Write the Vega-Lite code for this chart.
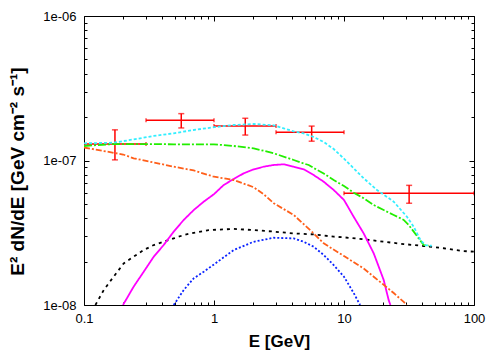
{
  "$schema": "https://vega.github.io/schema/vega-lite/v6.json",
  "width": 390,
  "height": 289,
  "autosize": {"type": "none"},
  "padding": {"left": 84, "top": 16, "right": 26, "bottom": 45},
  "background": "white",
  "config": {
    "view": {"stroke": null},
    "font": "Liberation Sans",
    "axis": {
      "grid": false,
      "labelFont": "Liberation Sans",
      "labelFontSize": 13,
      "labelColor": "black",
      "titleFont": "Liberation Sans",
      "titleFontSize": 17,
      "titleFontWeight": "bold",
      "titleColor": "black",
      "domainColor": "black",
      "domainWidth": 1,
      "tickColor": "black",
      "tickWidth": 1,
      "tickSize": -5,
      "labelFlush": false,
      "labelOverlap": false,
      "labelBound": false,
      "tickDash": {"condition": {"test": "abs(log(datum.value)/LN10 - round(log(datum.value)/LN10)) > 0.01", "value": [3, 10]}, "value": [6, 0]}
    }
  },
  "datasets": {
    "points": [
      {"E": 0.173, "Emin": 0.1, "Emax": 0.3, "F": 1.30e-7, "Fmin": 1.01e-7, "Fmax": 1.63e-7},
      {"E": 0.56, "Emin": 0.3, "Emax": 1.0, "F": 1.90e-7, "Fmin": 1.68e-7, "Fmax": 2.11e-7},
      {"E": 1.74, "Emin": 1.0, "Emax": 3.0, "F": 1.73e-7, "Fmin": 1.50e-7, "Fmax": 1.96e-7},
      {"E": 5.64, "Emin": 3.0, "Emax": 10.0, "F": 1.57e-7, "Fmin": 1.36e-7, "Fmax": 1.73e-7},
      {"E": 31.7, "Emin": 10.0, "Emax": 100.0, "F": 5.93e-8, "Fmin": 5.06e-8, "Fmax": 6.73e-8}
    ],
    "curves": [
      {"s": "black", "E": 0.1224, "F": 1.0e-8},
      {"s": "black", "E": 0.142, "F": 1.27e-8},
      {"s": "black", "E": 0.169, "F": 1.57e-8},
      {"s": "black", "E": 0.202, "F": 1.94e-8},
      {"s": "black", "E": 0.241, "F": 2.16e-8},
      {"s": "black", "E": 0.288, "F": 2.40e-8},
      {"s": "black", "E": 0.344, "F": 2.60e-8},
      {"s": "black", "E": 0.41, "F": 2.74e-8},
      {"s": "black", "E": 0.49, "F": 2.89e-8},
      {"s": "black", "E": 0.585, "F": 3.05e-8},
      {"s": "black", "E": 0.698, "F": 3.16e-8},
      {"s": "black", "E": 0.91, "F": 3.30e-8},
      {"s": "black", "E": 1.418, "F": 3.36e-8},
      {"s": "black", "E": 2.02, "F": 3.30e-8},
      {"s": "black", "E": 2.879, "F": 3.22e-8},
      {"s": "black", "E": 4.104, "F": 3.13e-8},
      {"s": "black", "E": 5.847, "F": 3.08e-8},
      {"s": "black", "E": 8.333, "F": 2.97e-8},
      {"s": "black", "E": 10.0, "F": 2.94e-8},
      {"s": "black", "E": 14.17, "F": 2.85e-8},
      {"s": "black", "E": 20.2, "F": 2.74e-8},
      {"s": "black", "E": 28.79, "F": 2.64e-8},
      {"s": "black", "E": 41.04, "F": 2.56e-8},
      {"s": "black", "E": 58.47, "F": 2.47e-8},
      {"s": "black", "E": 83.33, "F": 2.36e-8},
      {"s": "black", "E": 100.0, "F": 2.34e-8},

      {"s": "blue", "E": 0.49, "F": 1.0e-8},
      {"s": "blue", "E": 0.585, "F": 1.27e-8},
      {"s": "blue", "E": 0.698, "F": 1.53e-8},
      {"s": "blue", "E": 0.834, "F": 1.70e-8},
      {"s": "blue", "E": 1.0, "F": 1.91e-8},
      {"s": "blue", "E": 1.418, "F": 2.40e-8},
      {"s": "blue", "E": 2.02, "F": 2.74e-8},
      {"s": "blue", "E": 2.879, "F": 2.92e-8},
      {"s": "blue", "E": 4.104, "F": 2.89e-8},
      {"s": "blue", "E": 4.898, "F": 2.74e-8},
      {"s": "blue", "E": 5.847, "F": 2.53e-8},
      {"s": "blue", "E": 6.981, "F": 2.22e-8},
      {"s": "blue", "E": 8.333, "F": 1.89e-8},
      {"s": "blue", "E": 10.0, "F": 1.57e-8},
      {"s": "blue", "E": 11.87, "F": 1.21e-8},
      {"s": "blue", "E": 13.3, "F": 1.0e-8},

      {"s": "magenta", "E": 0.1995, "F": 1.0e-8},
      {"s": "magenta", "E": 0.241, "F": 1.34e-8},
      {"s": "magenta", "E": 0.288, "F": 1.70e-8},
      {"s": "magenta", "E": 0.344, "F": 2.16e-8},
      {"s": "magenta", "E": 0.41, "F": 2.60e-8},
      {"s": "magenta", "E": 0.49, "F": 3.22e-8},
      {"s": "magenta", "E": 0.585, "F": 3.88e-8},
      {"s": "magenta", "E": 0.698, "F": 4.54e-8},
      {"s": "magenta", "E": 0.834, "F": 5.19e-8},
      {"s": "magenta", "E": 1.0, "F": 5.85e-8},
      {"s": "magenta", "E": 1.188, "F": 6.77e-8},
      {"s": "magenta", "E": 1.418, "F": 7.45e-8},
      {"s": "magenta", "E": 1.692, "F": 8.15e-8},
      {"s": "magenta", "E": 2.02, "F": 8.69e-8},
      {"s": "magenta", "E": 2.412, "F": 9.06e-8},
      {"s": "magenta", "E": 2.879, "F": 9.31e-8},
      {"s": "magenta", "E": 3.438, "F": 9.41e-8},
      {"s": "magenta", "E": 4.104, "F": 9.06e-8},
      {"s": "magenta", "E": 4.898, "F": 8.69e-8},
      {"s": "magenta", "E": 5.847, "F": 7.93e-8},
      {"s": "magenta", "E": 6.981, "F": 7.13e-8},
      {"s": "magenta", "E": 8.333, "F": 6.25e-8},
      {"s": "magenta", "E": 10.0, "F": 5.33e-8},
      {"s": "magenta", "E": 11.87, "F": 4.08e-8},
      {"s": "magenta", "E": 14.17, "F": 3.13e-8},
      {"s": "magenta", "E": 16.92, "F": 2.28e-8},
      {"s": "magenta", "E": 20.2, "F": 1.49e-8},
      {"s": "magenta", "E": 22.07, "F": 1.08e-8},
      {"s": "magenta", "E": 22.75, "F": 1.0e-8},

      {"s": "orange", "E": 0.1, "F": 1.23e-7},
      {"s": "orange", "E": 0.142, "F": 1.163e-7},
      {"s": "orange", "E": 0.2, "F": 1.10e-7},
      {"s": "orange", "E": 0.241, "F": 1.036e-7},
      {"s": "orange", "E": 0.344, "F": 9.69e-8},
      {"s": "orange", "E": 0.49, "F": 9.06e-8},
      {"s": "orange", "E": 0.698, "F": 8.53e-8},
      {"s": "orange", "E": 1.0, "F": 7.72e-8},
      {"s": "orange", "E": 1.418, "F": 7.33e-8},
      {"s": "orange", "E": 2.02, "F": 6.53e-8},
      {"s": "orange", "E": 2.412, "F": 5.84e-8},
      {"s": "orange", "E": 2.879, "F": 5.06e-8},
      {"s": "orange", "E": 4.104, "F": 4.20e-8},
      {"s": "orange", "E": 5.847, "F": 3.13e-8},
      {"s": "orange", "E": 6.981, "F": 2.67e-8},
      {"s": "orange", "E": 10.0, "F": 2.18e-8},
      {"s": "orange", "E": 14.17, "F": 1.79e-8},
      {"s": "orange", "E": 16.92, "F": 1.57e-8},
      {"s": "orange", "E": 20.2, "F": 1.38e-8},
      {"s": "orange", "E": 24.12, "F": 1.21e-8},
      {"s": "orange", "E": 28.79, "F": 1.05e-8},
      {"s": "orange", "E": 30.35, "F": 1.0e-8},

      {"s": "green", "E": 0.1, "F": 1.26e-7},
      {"s": "green", "E": 0.169, "F": 1.30e-7},
      {"s": "green", "E": 0.288, "F": 1.30e-7},
      {"s": "green", "E": 0.49, "F": 1.295e-7},
      {"s": "green", "E": 1.0, "F": 1.295e-7},
      {"s": "green", "E": 1.418, "F": 1.26e-7},
      {"s": "green", "E": 2.02, "F": 1.214e-7},
      {"s": "green", "E": 2.879, "F": 1.122e-7},
      {"s": "green", "E": 4.104, "F": 1.008e-7},
      {"s": "green", "E": 4.898, "F": 9.53e-8},
      {"s": "green", "E": 5.352, "F": 9.31e-8},
      {"s": "green", "E": 5.847, "F": 8.87e-8},
      {"s": "green", "E": 6.981, "F": 8.13e-8},
      {"s": "green", "E": 8.333, "F": 7.33e-8},
      {"s": "green", "E": 10.0, "F": 6.66e-8},
      {"s": "green", "E": 11.87, "F": 5.99e-8},
      {"s": "green", "E": 14.17, "F": 5.48e-8},
      {"s": "green", "E": 16.92, "F": 4.92e-8},
      {"s": "green", "E": 20.2, "F": 4.54e-8},
      {"s": "green", "E": 24.12, "F": 4.20e-8},
      {"s": "green", "E": 28.79, "F": 3.88e-8},
      {"s": "green", "E": 31.45, "F": 3.58e-8},
      {"s": "green", "E": 34.38, "F": 3.22e-8},
      {"s": "green", "E": 37.55, "F": 2.89e-8},
      {"s": "green", "E": 41.04, "F": 2.60e-8},
      {"s": "green", "E": 44.82, "F": 2.57e-8},

      {"s": "cyan", "E": 0.1, "F": 1.315e-7},
      {"s": "cyan", "E": 0.169, "F": 1.328e-7},
      {"s": "cyan", "E": 0.241, "F": 1.40e-7},
      {"s": "cyan", "E": 0.344, "F": 1.478e-7},
      {"s": "cyan", "E": 0.49, "F": 1.543e-7},
      {"s": "cyan", "E": 0.698, "F": 1.626e-7},
      {"s": "cyan", "E": 1.0, "F": 1.70e-7},
      {"s": "cyan", "E": 1.418, "F": 1.761e-7},
      {"s": "cyan", "E": 2.02, "F": 1.789e-7},
      {"s": "cyan", "E": 2.879, "F": 1.752e-7},
      {"s": "cyan", "E": 3.438, "F": 1.67e-7},
      {"s": "cyan", "E": 4.104, "F": 1.59e-7},
      {"s": "cyan", "E": 4.898, "F": 1.54e-7},
      {"s": "cyan", "E": 5.847, "F": 1.454e-7},
      {"s": "cyan", "E": 6.981, "F": 1.343e-7},
      {"s": "cyan", "E": 8.333, "F": 1.20e-7},
      {"s": "cyan", "E": 10.0, "F": 1.03e-7},
      {"s": "cyan", "E": 14.17, "F": 7.53e-8},
      {"s": "cyan", "E": 17.94, "F": 6.25e-8},
      {"s": "cyan", "E": 24.12, "F": 5.19e-8},
      {"s": "cyan", "E": 30.5, "F": 4.08e-8},
      {"s": "cyan", "E": 34.38, "F": 3.48e-8},
      {"s": "cyan", "E": 38.7, "F": 2.82e-8},
      {"s": "cyan", "E": 42.3, "F": 2.59e-8},
      {"s": "cyan", "E": 47.3, "F": 2.57e-8}
    ]
  },
  "layer": [
    {
      "data": {"name": "points"},
      "mark": {"type": "rule", "color": "#ff0000", "strokeWidth": 1.5, "clip": true},
      "encoding": {
        "x": {"field": "Emin", "type": "quantitative",
              "scale": {"type": "log", "domain": [0.1, 100], "nice": false},
              "axis": {"orient": "top", "title": null, "labels": false,
                       "values": [0.1,0.2,0.3,0.4,0.5,0.6,0.7,0.8,0.9,1,2,3,4,5,6,7,8,9,10,20,30,40,50,60,70,80,90,100]}},
        "x2": {"field": "Emax"},
        "y": {"field": "F", "type": "quantitative",
              "scale": {"type": "log", "domain": [1e-8, 1e-6], "nice": false},
              "axis": {"orient": "right", "title": null, "labels": false,
                       "values": [1e-8,2e-8,3e-8,4e-8,5e-8,6e-8,7e-8,8e-8,9e-8,1e-7,2e-7,3e-7,4e-7,5e-7,6e-7,7e-7,8e-7,9e-7,1e-6]}}
      }
    },
    {
      "data": {"name": "points"},
      "mark": {"type": "rule", "color": "#ff0000", "strokeWidth": 1.5, "clip": true},
      "encoding": {
        "x": {"field": "E", "type": "quantitative", "axis": null},
        "y": {"field": "Fmin", "type": "quantitative", "axis": null},
        "y2": {"field": "Fmax"}
      }
    },
    {
      "data": {"name": "points"},
      "mark": {"type": "tick", "orient": "horizontal", "color": "#ff0000", "size": 6, "thickness": 1.5, "clip": true},
      "encoding": {
        "x": {"field": "E", "type": "quantitative", "axis": null},
        "y": {"field": "Fmin", "type": "quantitative", "axis": null}
      }
    },
    {
      "data": {"name": "points"},
      "mark": {"type": "tick", "orient": "horizontal", "color": "#ff0000", "size": 6, "thickness": 1.5, "clip": true},
      "encoding": {
        "x": {"field": "E", "type": "quantitative", "axis": null},
        "y": {"field": "Fmax", "type": "quantitative", "axis": null}
      }
    },
    {
      "data": {"name": "points"},
      "mark": {"type": "tick", "orient": "vertical", "color": "#ff0000", "size": 4, "thickness": 1.5, "clip": true},
      "encoding": {
        "x": {"field": "Emin", "type": "quantitative", "axis": null},
        "y": {"field": "F", "type": "quantitative", "axis": null}
      }
    },
    {
      "data": {"name": "points"},
      "mark": {"type": "tick", "orient": "vertical", "color": "#ff0000", "size": 4, "thickness": 1.5, "clip": true},
      "encoding": {
        "x": {"field": "Emax", "type": "quantitative", "axis": null},
        "y": {"field": "F", "type": "quantitative", "axis": null}
      }
    },
    {
      "data": {"name": "curves"},
      "mark": {"type": "line", "clip": true},
      "encoding": {
        "x": {"field": "E", "type": "quantitative",
              "axis": {"orient": "bottom", "title": "E [GeV]", "titleY": 41, "titleBaseline": "alphabetic",
                       "labelPadding": 12,
                       "values": [0.1,0.2,0.3,0.4,0.5,0.6,0.7,0.8,0.9,1,2,3,4,5,6,7,8,9,10,20,30,40,50,60,70,80,90,100],
                       "labelExpr": "abs(log(datum.value)/LN10 - round(log(datum.value)/LN10)) < 0.01 ? format(datum.value, '~g') : ''"}},
        "y": {"field": "F", "type": "quantitative",
              "axis": {"orient": "left", "title": "E² dN/dE [GeV cm⁻² s⁻¹]", "titleX": -61, "titleY": 155,
                       "titleFontSize": 19,
                       "titleAlign": "center", "titleBaseline": "alphabetic", "titleAngle": 270,
                       "labelPadding": 13,
                       "values": [1e-8,2e-8,3e-8,4e-8,5e-8,6e-8,7e-8,8e-8,9e-8,1e-7,2e-7,3e-7,4e-7,5e-7,6e-7,7e-7,8e-7,9e-7,1e-6],
                       "labelExpr": "abs(log(datum.value)/LN10 - round(log(datum.value)/LN10)) < 0.01 ? '1e-0' + (-round(log(datum.value)/LN10)) : ''"}},
        "color": {"field": "s", "type": "nominal", "legend": null,
                  "scale": {"domain": ["black", "blue", "magenta", "orange", "green", "cyan"],
                            "range": ["#000000", "#0a22ff", "#ff00ff", "#ff5f1a", "#22ee00", "#33eeff"]}},
        "strokeDash": {"field": "s", "type": "nominal", "legend": null,
                       "scale": {"domain": ["black", "blue", "magenta", "orange", "green", "cyan"],
                                 "range": [[3, 4], [2, 2], [1, 0], [6, 2, 2, 2], [8, 2, 2, 2], [3, 2]]}},
        "strokeWidth": {"field": "s", "type": "nominal", "legend": null,
                        "scale": {"domain": ["black", "blue", "magenta", "orange", "green", "cyan"],
                                  "range": [1.8, 1.8, 1.3, 1.6, 1.8, 1.8]}}
      }
    }
  ],
  "resolve": {"axis": {"x": "independent", "y": "independent"}}
}
